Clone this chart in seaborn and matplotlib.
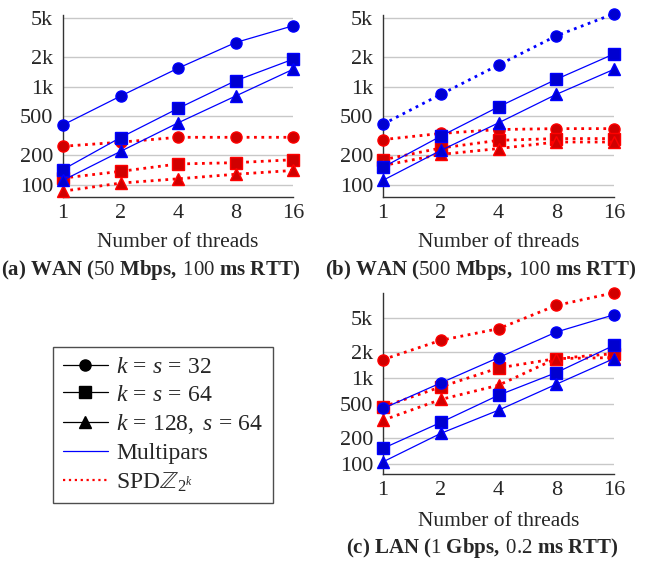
import matplotlib
matplotlib.use('Agg')
import matplotlib.pyplot as plt
from matplotlib.lines import Line2D
from matplotlib.ticker import FixedLocator, FixedFormatter, NullLocator
import seaborn as sns


THREADS = [1, 2, 4, 8, 16]
Y_TICKS = [100, 200, 500, 1000, 2000, 5000]
Y_LABELS = ['100', '200', '500', '1k', '2k', '5k']

# (a) WAN 50 Mbps
A_MP_32 = [408, 803, 1545, 2825, 4190]
A_MP_64 = [143, 303, 601, 1151, 1910]
A_MP_128 = [111, 219, 428, 803, 1507]
A_SPDZ_32 = [247, 272, 305, 305, 305]
A_SPDZ_64 = [117, 137, 163, 168, 180]
A_SPDZ_128 = [86, 104, 115, 128, 140]

# (b) WAN 500 Mbps
B_MP_32 = [415, 836, 1668, 3307, 5560]
B_MP_64 = [151, 313, 624, 1191, 2163]
B_MP_128 = [111, 224, 428, 836, 1507]
B_SPDZ_32 = [289, 334, 366, 374, 374]
B_SPDZ_64 = [180, 237, 284, 296, 296]
B_SPDZ_128 = [157, 204, 234, 273, 273]

# (c) LAN 1 Gbps
C_MP_32 = [442, 875, 1723, 3414, 5420]
C_MP_64 = [152, 304, 630, 1153, 2393]
C_MP_128 = [106, 227, 422, 845, 1679]
C_SPDZ_32 = [1634, 2735, 3733, 6957, 9750]
C_SPDZ_64 = [461, 787, 1306, 1679, 1917]
C_SPDZ_128 = [323, 562, 823, 1679, 1723]

CAPTIONS = [
    r'$\mathbf{(a)\ WAN\ (}$50 $\mathbf{Mbps,}\;$100 $\mathbf{ms\ RTT)}$',
    r'$\mathbf{(b)\ WAN\ (}$500 $\mathbf{Mbps,}\;$100 $\mathbf{ms\ RTT)}$',
    r'$\mathbf{(c)\ LAN\ (}$1 $\mathbf{Gbps,}\;$0.2 $\mathbf{ms\ RTT)}$',
]

BLUE = '#0000ff'
BLUE_FILL = '#0000d0'
RED = '#ff0000'
RED_FILL = '#d00000'
MARKERS = {'32': 'o', '64': 's', '128': '^'}

W, H = 666, 562


def draw_series(ax, vals, kind, marker, dotted=False):
    if kind == 'mp':
        col, fill = BLUE, BLUE_FILL
        lw, ls = (2.0, ':') if dotted else (0.9, '-')
    else:
        col, fill, lw, ls = RED, RED_FILL, 2.0, ':'
    ms = 8 if marker != '^' else 8.5
    sns.lineplot(x=THREADS, y=vals, ax=ax, color=col, linewidth=lw,
                 linestyle=ls, marker=marker, markersize=ms,
                 markerfacecolor=fill, markeredgecolor=col,
                 markeredgewidth=1.0, clip_on=False, zorder=3)


def style_axes(ax, ylim, caption, label_y, cap_x, cap_y):
    ax.set_xscale('log', base=2)
    ax.set_yscale('log')
    ax.set_xlim(1, 16)
    ax.set_ylim(*ylim)
    ax.xaxis.set_major_locator(FixedLocator(THREADS))
    ax.xaxis.set_major_formatter(FixedFormatter([str(t) for t in THREADS]))
    ax.xaxis.set_minor_locator(NullLocator())
    ax.yaxis.set_major_locator(FixedLocator(Y_TICKS))
    ax.yaxis.set_major_formatter(FixedFormatter(Y_LABELS))
    ax.yaxis.set_minor_locator(NullLocator())
    ax.grid(axis='y', color='#c8c8c8', linewidth=1.0)
    ax.grid(axis='x', visible=False)
    ax.tick_params(axis='x', direction='in', length=8, width=0.8,
                   color='#777777', labelsize=16, pad=5)
    ax.tick_params(axis='y', length=0, labelsize=16, pad=7)
    for side in ('top', 'right'):
        ax.spines[side].set_visible(False)
    for side in ('left', 'bottom'):
        ax.spines[side].set_color('#333333')
        ax.spines[side].set_linewidth(1.0)
    ax.set_xlabel('Number of threads', fontsize=15.5)
    ax.xaxis.label.set_va('center')
    bb = ax.get_position()
    ax.xaxis.set_label_coords(0.5, (1 - label_y / H - bb.y0) / bb.height)
    ax.set_ylabel('')
    ax.set_axisbelow(True)
    fig.text(cap_x / W, 1 - cap_y / H, caption, ha='center', va='center',
             fontsize=15)


sns.set_style('white')
plt.rcParams['font.family'] = ['Liberation Serif', 'DejaVu Serif']
plt.rcParams['mathtext.fontset'] = 'custom'
plt.rcParams['mathtext.rm'] = 'Liberation Serif'
plt.rcParams['mathtext.it'] = 'Liberation Serif:italic'
plt.rcParams['mathtext.bf'] = 'Liberation Serif:bold'

fig = plt.figure(figsize=(6.66, 5.62), dpi=100)


def add_ax(x0, x1, y0, y1):
    return fig.add_axes([x0 / W, 1 - y1 / H, (x1 - x0) / W, (y1 - y0) / H])


ax_a = add_ax(63, 293, 15, 197)
ax_b = add_ax(383, 614, 15, 197)
ax_c = add_ax(383, 614, 293, 474)

panels = [
    (ax_a, (A_MP_32, A_MP_64, A_MP_128), (A_SPDZ_32, A_SPDZ_64, A_SPDZ_128),
     (75, 5400), 242.5, 151, 270.5),
    (ax_b, (B_MP_32, B_MP_64, B_MP_128), (B_SPDZ_32, B_SPDZ_64, B_SPDZ_128),
     (75, 5400), 242.5, 481, 270.5),
    (ax_c, (C_MP_32, C_MP_64, C_MP_128), (C_SPDZ_32, C_SPDZ_64, C_SPDZ_128),
     (76.6, 9700), 521, 482, 548),
]

for i, (ax, mp, spdz, ylim, lab_y, cap_x, cap_y) in enumerate(panels):
    for vals, key in zip(spdz, ('32', '64', '128')):
        draw_series(ax, vals, 'spdz', MARKERS[key])
    for vals, key in zip(mp, ('32', '64', '128')):
        # panel (b) shows the k=s=32 Multipars curve dotted
        draw_series(ax, vals, 'mp', MARKERS[key], dotted=(i == 1 and key == '32'))
    style_axes(ax, ylim, CAPTIONS[i], lab_y, cap_x, cap_y)

handles = [
    Line2D([], [], color='black', lw=0.9, marker='o', markersize=8),
    Line2D([], [], color='black', lw=0.9, marker='s', markersize=8),
    Line2D([], [], color='black', lw=0.9, marker='^', markersize=8),
    Line2D([], [], color=BLUE, lw=0.9),
    Line2D([], [], color=RED, lw=1.6, linestyle=':'),
]
labels = [r'$k\,=\,s\,=\,32$', r'$k\,=\,s\,=\,64$', r'$k\,=\,128,\ s\,=\,64$',
          'Multipars', r'SPD$\mathbb{Z}_{2^k}$']
leg = fig.legend(handles, labels, loc='center',
                 bbox_to_anchor=(163 / W, 1 - 425 / H), fontsize=17,
                 frameon=True, fancybox=False, edgecolor='#222222',
                 handlelength=1.9, handletextpad=0.35, labelspacing=0.27,
                 borderpad=0.4, borderaxespad=0)
leg.get_frame().set_linewidth(1.0)

plt.savefig('out.png', dpi=100)
